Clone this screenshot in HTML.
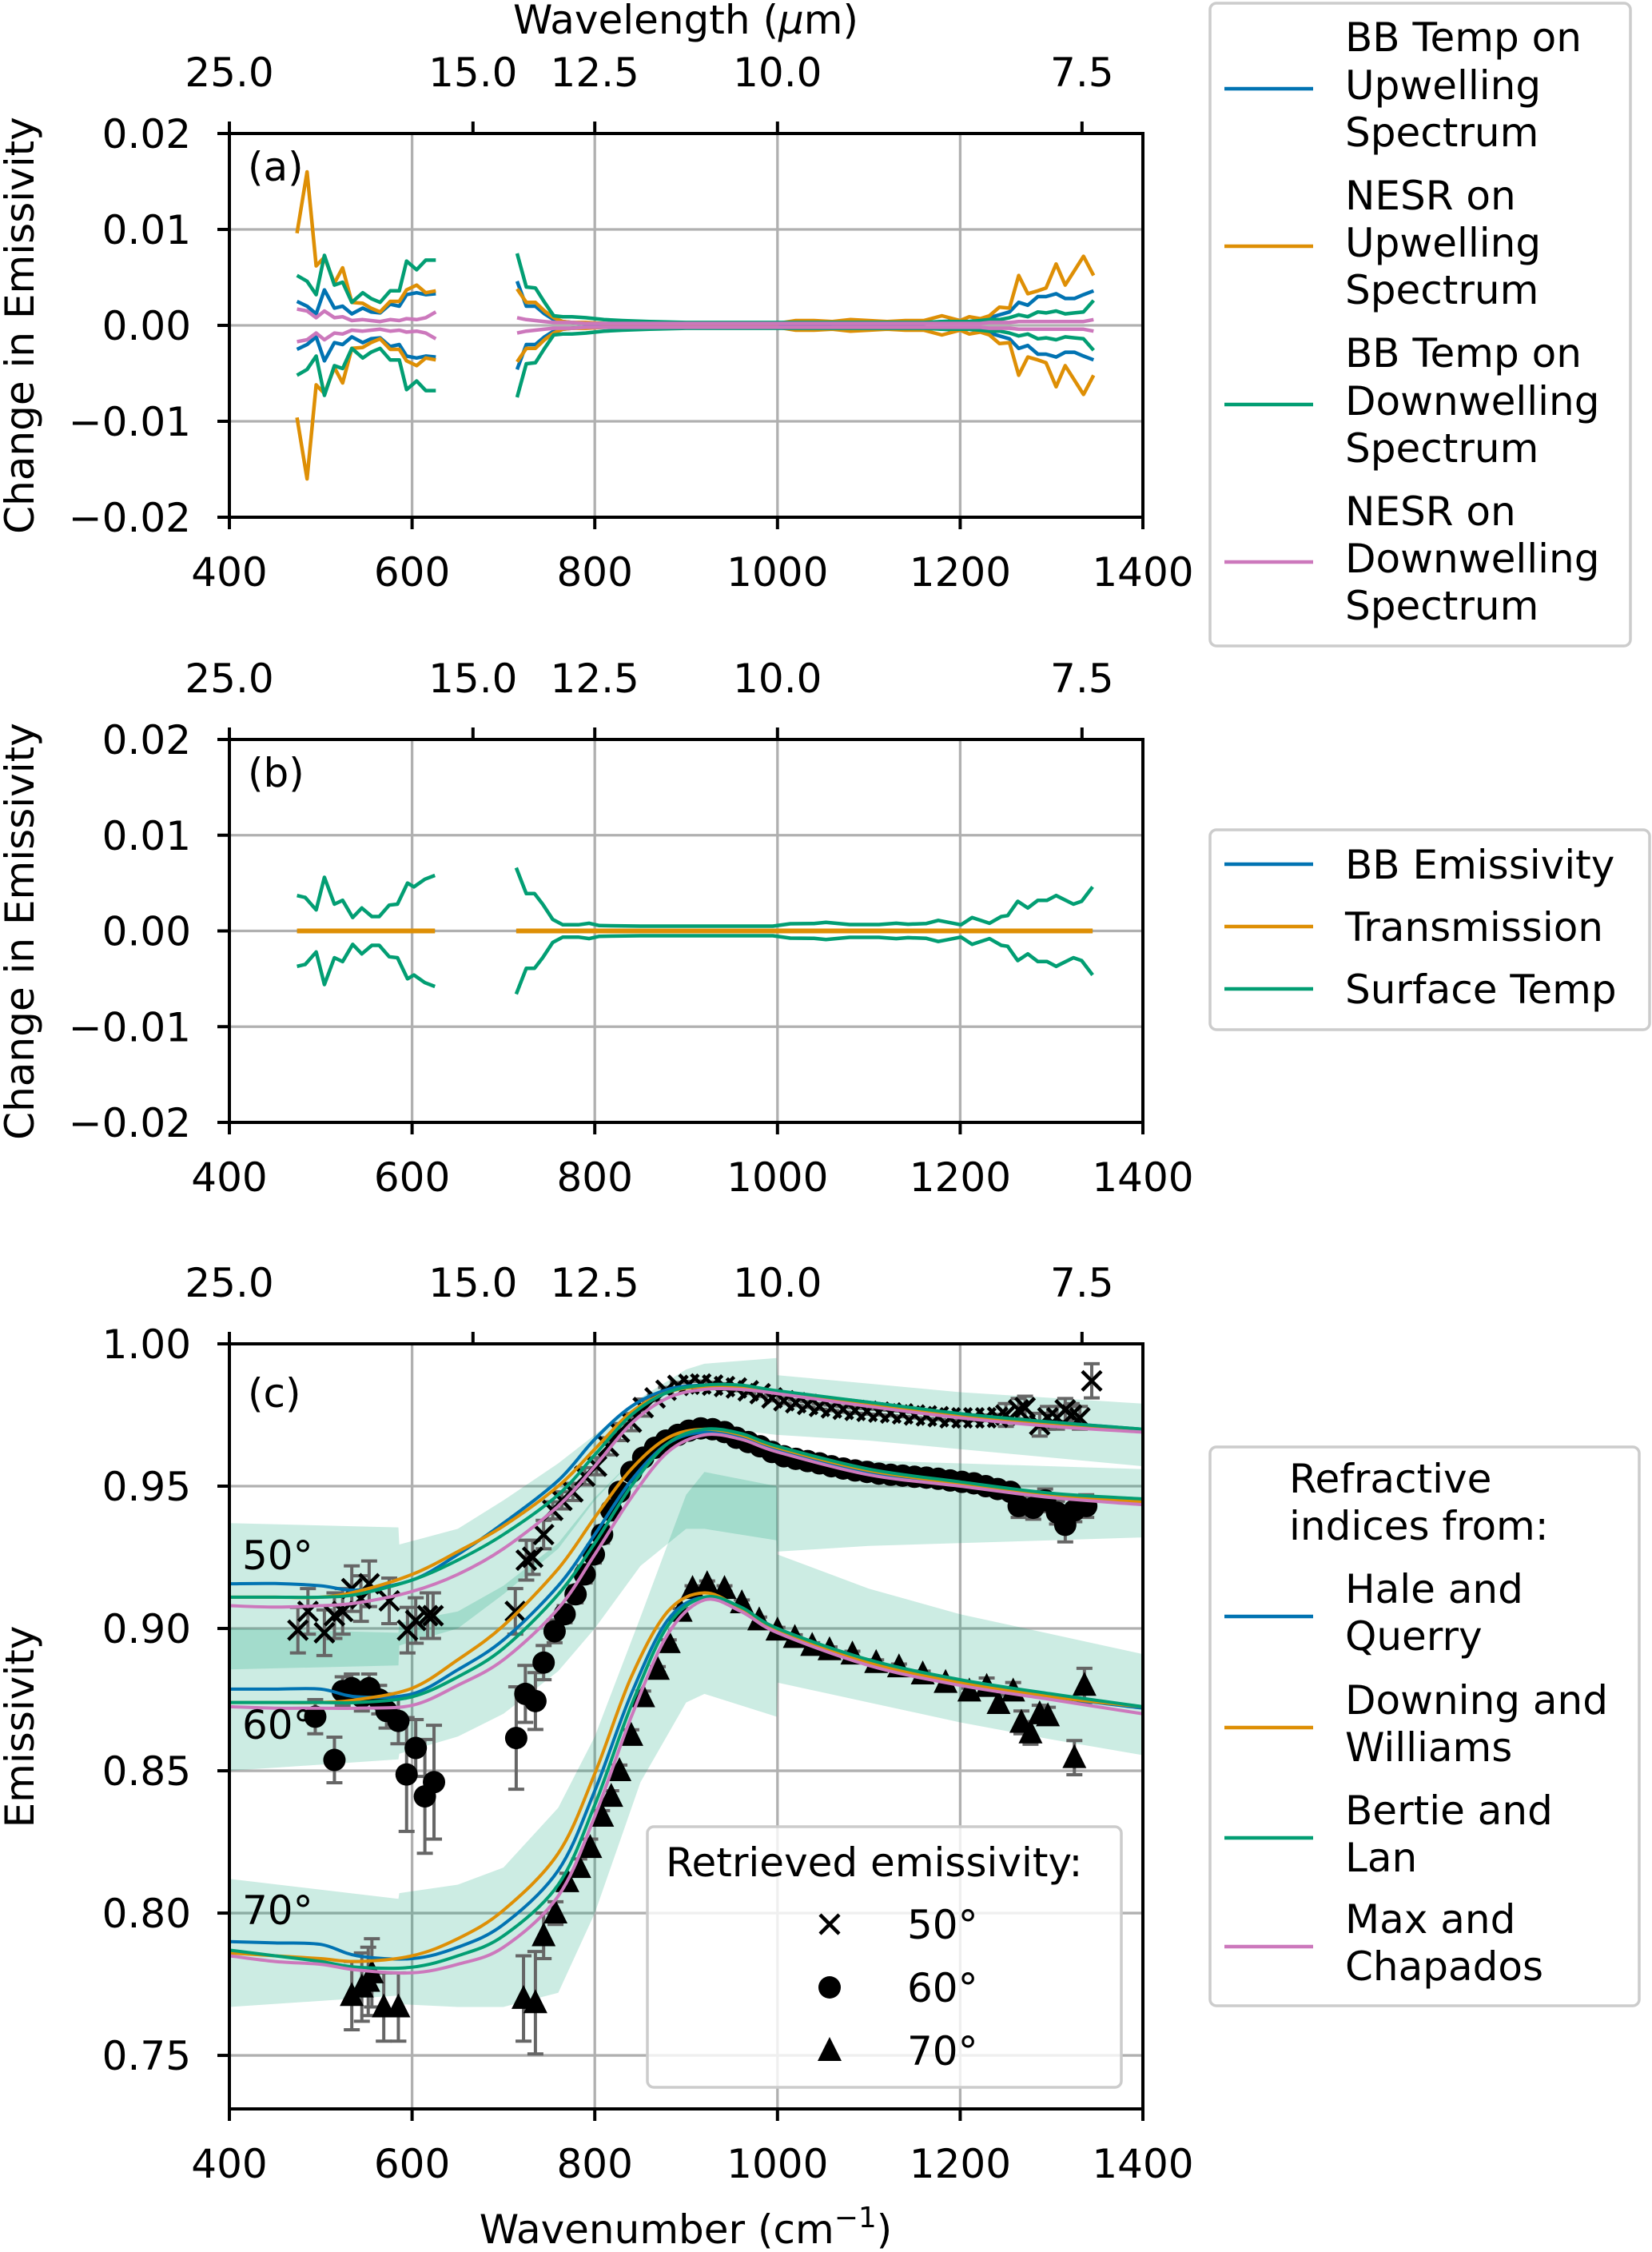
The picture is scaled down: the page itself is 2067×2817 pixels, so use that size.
<!DOCTYPE html>
<html><head><meta charset="utf-8">
<style>
html,body{margin:0;padding:0;background:#fff;}
svg{display:block;font-family:"DejaVu Sans","Liberation Sans",sans-serif;}
</style></head>
<body>
<svg id="fig" xmlns="http://www.w3.org/2000/svg" width="2067" height="2817" viewBox="0 0 2067 2817"></svg>
<script>
// ---------- Panel (a) data ----------
const aXLeft = [474,485,495,504,515,524,534,546,555,565,576,586,594,605,615,626];
const aBBUpLeft = [0.0025,0.002,0.0012,0.0037,0.0018,0.002,0.0012,0.0018,0.0014,0.0013,0.0022,0.002,0.0032,0.0034,0.0032,0.0033];
const aNesrUpLeft = [0.0096,0.016,0.0062,0.0071,0.0044,0.006,0.0024,0.0023,0.0018,0.0014,0.0025,0.0025,0.0037,0.0042,0.0034,0.0036];
const aBBDownLeft = [0.0052,0.0046,0.0032,0.0073,0.0042,0.0045,0.0024,0.0034,0.0028,0.0024,0.0036,0.0036,0.0067,0.0058,0.0068,0.0068];
const aNesrDownLeft = [0.0017,0.0015,0.0008,0.0015,0.0008,0.0009,0.0005,0.0006,0.0005,0.0004,0.0006,0.0005,0.0007,0.0006,0.0008,0.0014];
const aXRight = [715,725,735,745,755,765,775,790,810,830,860,900,950,1000,1020,1040,1060,1080,1100,1120,1140,1160,1180,1200,1210,1222,1232,1243,1254,1264,1274,1285,1294,1305,1315,1325,1335,1346];
const aNesrUpRight = [0.0038,0.0024,0.0024,0.0015,0.0008,0.0004,0.0003,0.0003,0.0002,0.0002,0.0002,0.0002,0.0002,0.0002,0.0005,0.0005,0.0004,0.0006,0.0005,0.0004,0.0005,0.0005,0.001,0.0005,0.0009,0.0007,0.001,0.0019,0.0018,0.0052,0.0033,0.0036,0.0039,0.0064,0.0042,0.0057,0.0072,0.0052];
const aBBUpRight = [0.0046,0.002,0.002,0.0012,0.0006,0.0004,0.0003,0.0002,0.0002,0.0001,0.0001,0.0001,0.0001,0.0001,0.0001,0.0001,0.0002,0.0002,0.0002,0.0002,0.0002,0.0002,0.0004,0.0005,0.0004,0.0006,0.0008,0.0011,0.0014,0.0024,0.0021,0.003,0.003,0.0033,0.0028,0.0028,0.0032,0.0036];
const aBBDownRight = [0.0075,0.004,0.0039,0.0024,0.001,0.0009,0.0009,0.0008,0.0006,0.0005,0.0004,0.0003,0.0003,0.0003,0.0003,0.0003,0.0003,0.0003,0.0003,0.0003,0.0003,0.0003,0.0004,0.0004,0.0004,0.0005,0.0006,0.0006,0.0008,0.0011,0.0009,0.0014,0.0013,0.0015,0.0012,0.0013,0.0014,0.0026];
const aNesrDownRight = [0.0008,0.0006,0.0005,0.0004,0.0003,0.0003,0.0003,0.0002,0.0002,0.0002,0.0002,0.0002,0.0002,0.0002,0.0002,0.0002,0.0002,0.0002,0.0002,0.0002,0.0002,0.0002,0.0002,0.0002,0.0002,0.0002,0.0003,0.0003,0.0003,0.0004,0.0004,0.0004,0.0004,0.0004,0.0004,0.0004,0.0004,0.0006];

// ---------- Panel (b) data ----------
const bXLeft = [474,483,495,504,515,524,535,545,556,564,575,584,595,602,614,625];
const bSurfLeft = [0.0037,0.0035,0.0022,0.0056,0.0028,0.0032,0.0014,0.0024,0.0015,0.0015,0.0027,0.0028,0.005,0.0046,0.0054,0.0058];
const bXRight = [714,725,734,743,754,765,782,794,805,850,900,995,1014,1040,1053,1079,1111,1130,1143,1163,1176,1201,1213,1232,1245,1252,1263,1274,1285,1295,1305,1324,1333,1345];
const bSurfRight = [0.0066,0.0039,0.0039,0.0028,0.0012,0.00064,0.00064,0.0008,0.00056,0.0005,0.0005,0.0005,0.00075,0.00078,0.0009,0.00067,0.00067,0.0008,0.0007,0.00078,0.0011,0.00064,0.0014,0.0008,0.0015,0.0016,0.0031,0.0024,0.0032,0.0032,0.0037,0.0028,0.0031,0.0046];

// ---------- Panel (c) data ----------
const cX = [400,450,500,540,600,650,700,760,800,840,880,920,960,1000,1100,1200,1300,1400];
const hale50 = [.9157,.9158,.915,.9135,.917,.926,.937,.952,.9665,.978,.984,.9855,.985,.983,.9795,.975,.9725,.970];
const down50 = [.911,.911,.911,.913,.919,.927,.936,.950,.963,.976,.983,.985,.985,.983,.979,.975,.972,.9695];
const bert50 = [.911,.911,.911,.912,.917,.924,.933,.947,.961,.975,.983,.9855,.9855,.9835,.9795,.9755,.9725,.970];
const max50  = [.908,.9075,.908,.909,.913,.919,.928,.943,.957,.972,.981,.984,.984,.9825,.978,.974,.971,.969];
const hale60 = [.8787,.8787,.8787,.876,.877,.8855,.896,.915,.933,.952,.965,.969,.967,.963,.955,.9505,.9465,.9446];
const down60 = [.874,.874,.874,.875,.879,.889,.901,.921,.939,.956,.967,.970,.968,.9635,.9555,.951,.947,.9445];
const bert60 = [.874,.874,.874,.874,.876,.883,.893,.912,.930,.950,.965,.970,.9685,.964,.956,.9515,.9475,.9455];
const max60  = [.8725,.872,.872,.872,.873,.880,.889,.907,.926,.946,.962,.968,.9665,.962,.954,.950,.946,.9435];
const hale70 = [.790,.7895,.789,.785,.784,.788,.796,.815,.843,.877,.903,.911,.906,.899,.888,.881,.876,.872];
const down70 = [.786,.785,.784,.783,.785,.791,.801,.821,.849,.883,.906,.9125,.907,.8995,.888,.881,.876,.8725];
const bert70 = [.787,.785,.783,.781,.781,.785,.792,.810,.838,.873,.901,.911,.9075,.900,.889,.882,.877,.8725];
const max70  = [.785,.783,.782,.780,.779,.782,.788,.806,.834,.869,.898,.910,.906,.8985,.887,.880,.875,.870];

const bandX = [400,585,586,650,700,760,800,850,900,920,999,1000,1100,1200,1300,1400];
const band50Hi = [.937,.9355,.9295,.935,.945,.958,.968,.981,.991,.993,.995,.989,.986,.983,.981,.979];
const band50Lo = [.8856,.887,.894,.900,.912,.928,.945,.962,.970,.971,.968,.968,.966,.963,.960,.957];
const band60Hi = [.900,.8985,.902,.906,.915,.930,.946,.962,.969,.970,.966,.960,.959,.958,.957,.956];
const band60Lo = [.850,.854,.856,.862,.870,.885,.900,.922,.935,.935,.931,.927,.929,.930,.931,.932];
const band70Hi = [.812,.805,.807,.810,.816,.837,.862,.904,.947,.955,.950,.926,.914,.905,.898,.891];
const band70Lo = [.767,.771,.768,.767,.767,.772,.800,.846,.874,.877,.869,.881,.874,.867,.861,.8555];

const x50 = [475,486,504,515,524,534,544,553,575,595,604,617,623,713,725,732,744,754,764,776,789,802,815,827,840,853,866,878,891,903,916,929,942,955,968,981,994,1007,1020,1033,1046,1059,1072,1085,1098,1111,1124,1137,1150,1163,1176,1189,1202,1215,1228,1241,1250,1264,1271,1287,1296,1306,1315,1322,1331,1344];
const y50 = [.8994,.906,.8985,.9045,.906,.914,.9105,.9157,.9097,.8994,.9028,.9045,.9045,.906,.924,.925,.933,.9415,.945,.948,.9535,.957,.964,.969,.9725,.9776,.981,.9837,.9854,.9858,.9859,.9855,.985,.9845,.9835,.9825,.981,.980,.9793,.9787,.978,.9775,.977,.9766,.9763,.976,.9757,.9754,.975,.9747,.9744,.974,.974,.974,.974,.9742,.975,.9768,.9776,.9716,.974,.974,.9768,.975,.974,.987];
const e50 = [.008,.008,.008,.008,.008,.008,.008,.008,.008,.008,.008,.008,.008,.008,.007,.006,.005,.003,.003,.003,.003,.003,.003,.003,.003,.003,.001,.001,.001,.001,.001,.001,.001,.001,.001,.001,.001,.001,.001,.001,.001,.001,.001,.001,.001,.001,.001,.001,.001,.001,.001,.001,.001,.001,.001,.001,.004,.004,.004,.004,.004,.004,.004,.004,.004,.006];
const x60 = [494,515,524,534,545,553,564,572,585,594,604,614,624,714,724,735,744,756,767,779,789,799,808,818,827,840,853,866,878,891,903,916,929,942,955,968,981,994,1007,1020,1033,1046,1059,1072,1085,1098,1111,1124,1137,1150,1163,1176,1189,1202,1215,1228,1241,1255,1264,1280,1293,1306,1315,1325,1338];
const y60 = [.869,.8538,.878,.879,.876,.879,.875,.871,.8675,.8487,.858,.841,.846,.8615,.877,.8745,.888,.899,.905,.912,.919,.926,.933,.9415,.948,.955,.960,.9635,.966,.968,.9695,.9703,.970,.969,.967,.9655,.964,.962,.9605,.9596,.9588,.958,.957,.9562,.9555,.955,.9544,.954,.9537,.9533,.953,.9526,.952,.9515,.951,.950,.949,.948,.943,.9424,.945,.9407,.9364,.9415,.943];
const e60 = [.006,.008,.005,.005,.005,.005,.005,.006,.008,.02,.01,.02,.02,.018,.01,.01,.006,.004,.003,.003,.003,.003,.003,.002,.002,.002,.002,.001,.001,.001,.001,.001,.001,.001,.001,.001,.001,.001,.001,.001,.001,.001,.001,.001,.001,.001,.001,.001,.001,.001,.001,.001,.001,.001,.001,.001,.001,.001,.004,.004,.004,.004,.006,.004,.004];
const x70 = [534,545,552,556,569,585,722,735,744,757,770,783,795,808,818,827,840,853,869,881,894,907,923,942,961,980,1000,1019,1038,1057,1082,1108,1133,1159,1184,1210,1229,1242,1258,1267,1277,1287,1296,1325,1336];
const y70 = [.771,.774,.776,.779,.767,.767,.770,.7685,.792,.80,.811,.816,.823,.834,.841,.850,.8624,.876,.8856,.895,.906,.914,.9157,.914,.909,.903,.8994,.8968,.894,.8925,.891,.888,.8865,.884,.881,.878,.8796,.8736,.878,.867,.8633,.870,.8693,.8546,.880];
const e70 = [.012,.012,.012,.012,.012,.012,.015,.018,.008,.004,.003,.003,.003,.002,.002,.002,.002,.002,.001,.001,.001,.001,.001,.001,.001,.001,.001,.001,.001,.001,.001,.001,.001,.001,.001,.001,.003,.003,.003,.004,.004,.003,.003,.006,.006];

const xTicks = [400,600,800,1000,1200,1400];
const xTickLabels = ["400","600","800","1000","1200","1400"];
const wlTicks = [25.0,15.0,12.5,10.0,7.5];
const wlTickLabels = ["25.0","15.0","12.5","10.0","7.5"];
const abTicks = [-0.02,-0.01,0,0.01,0.02];
const abTickLabels = ["\u22120.02","\u22120.01","0.00","0.01","0.02"];
const cTicks = [0.75,0.80,0.85,0.90,0.95,1.00];
const cTickLabels = ["0.75","0.80","0.85","0.90","0.95","1.00"];

const BLUE="#0173b2", ORANGE="#de8f05", GREEN="#029e73", PINK="#cc78bc";
const NS="http://www.w3.org/2000/svg";
const svg=document.getElementById('fig');
function mk(tag,attrs,parent){const e=document.createElementNS(NS,tag);for(const k in attrs)e.setAttribute(k,attrs[k]);(parent||svg).appendChild(e);return e;}
function txt(s,x,y,attrs,parent){const e=mk('text',Object.assign({x:x,y:y,'font-size':50,fill:'#000'},attrs||{}),parent);e.textContent=s;return e;}

const L=287,R=1430;
function sx(v){return L+(v-400)/1000*(R-L);}
function makeY(top,bot,ymin,ymax){return v=>bot-(v-ymin)/(ymax-ymin)*(bot-top);}

function polyPath(xs,ys,fx,fy){return xs.map((x,i)=>(i?'L':'M')+fx(x).toFixed(1)+','+fy(ys[i]).toFixed(1)).join(' ');}
function smoothPath(xs,ys,fx,fy){
  const P=xs.map((x,i)=>[fx(x),fy(ys[i])]);let d='M'+P[0][0].toFixed(1)+','+P[0][1].toFixed(1);
  for(let i=0;i<P.length-1;i++){const p0=P[Math.max(0,i-1)],p1=P[i],p2=P[i+1],p3=P[Math.min(P.length-1,i+2)];
    const c1=[p1[0]+(p2[0]-p0[0])/6,p1[1]+(p2[1]-p0[1])/6],c2=[p2[0]-(p3[0]-p1[0])/6,p2[1]-(p3[1]-p1[1])/6];
    d+=' C'+c1[0].toFixed(1)+','+c1[1].toFixed(1)+' '+c2[0].toFixed(1)+','+c2[1].toFixed(1)+' '+p2[0].toFixed(1)+','+p2[1].toFixed(1);}
  return d;}

function axesFrame(g,top,bot,fy,yTicks,yLabels,name){
  xTicks.forEach(t=>{if(t>400&&t<1400){const l=mk('line',{x1:sx(t),x2:sx(t),y1:top,y2:bot,stroke:'#b0b0b0','stroke-width':3.3},g);
    
    }});
  yTicks.forEach(t=>{const y=fy(t);if(y>top+1&&y<bot-1){const l=mk('line',{x1:L,x2:R,y1:y,y2:y,stroke:'#b0b0b0','stroke-width':3.3},g);
    
    }});
}
function axesDecor(g,top,bot,fy,yTicks,yLabels,name){
  const fr=mk('rect',{x:L,y:top,width:R-L,height:bot-top,fill:'none',stroke:'#000','stroke-width':4},g);
  
  
  xTicks.forEach((t,i)=>{mk('line',{x1:sx(t),x2:sx(t),y1:bot,y2:bot+15,stroke:'#000','stroke-width':4},g);
    const tl=txt(xTickLabels[i],sx(t),bot+86,{'text-anchor':'middle'},g);
    
    });
  yTicks.forEach((t,i)=>{const y=fy(t);mk('line',{x1:L-15,x2:L,y1:y,y2:y,stroke:'#000','stroke-width':4},g);
    const tl=txt(yLabels[i],L-48,y+18,{'text-anchor':'end'},g);
    
    });
  wlTicks.forEach((w,i)=>{const x=sx(10000/w);mk('line',{x1:x,x2:x,y1:top-15,y2:top,stroke:'#000','stroke-width':4},g);
    const tl=txt(wlTickLabels[i],x,top-59,{'text-anchor':'middle'},g);
    
    });
}
function line(g,xs,ys,fx,fy,color,name,smooth){const p=mk('path',{d:smooth?smoothPath(xs,ys,fx,fy):polyPath(xs,ys,fx,fy),fill:'none',stroke:color,'stroke-width':4.5,'stroke-linejoin':'round'},g);
  
  return p;}
const neg=a=>a.map(v=>-v);

// ===== Panel (a) =====
const fa=makeY(167,647,-0.02,0.02);
const ga=mk('g',{});


axesFrame(ga,167,647,fa,abTicks,abTickLabels,'panel-a');
[[aBBUpLeft,aBBUpRight,BLUE,'bb-temp-upwelling'],[aNesrUpLeft,aNesrUpRight,ORANGE,'nesr-upwelling'],[aBBDownLeft,aBBDownRight,GREEN,'bb-temp-downwelling'],[aNesrDownLeft,aNesrDownRight,PINK,'nesr-downwelling']].forEach(s=>{
  line(ga,aXLeft,s[0],sx,fa,s[2],s[3]+'-upper-left');line(ga,aXLeft,neg(s[0]),sx,fa,s[2],s[3]+'-lower-left');
  line(ga,aXRight,s[1],sx,fa,s[2],s[3]+'-upper-right');line(ga,aXRight,neg(s[1]),sx,fa,s[2],s[3]+'-lower-right');});
axesDecor(ga,167,647,fa,abTicks,abTickLabels,'panel-a');
const la=txt('(a)',310,226,{},ga);

// ===== Panel (b) =====
const fb=makeY(925,1404,-0.02,0.02);
const gb=mk('g',{});


axesFrame(gb,925,1404,fb,abTicks,abTickLabels,'panel-b');
line(gb,bXLeft,bSurfLeft,sx,fb,GREEN,'surface-temp-upper-left');line(gb,bXLeft,neg(bSurfLeft),sx,fb,GREEN,'surface-temp-lower-left');
line(gb,bXRight,bSurfRight,sx,fb,GREEN,'surface-temp-upper-right');line(gb,bXRight,neg(bSurfRight),sx,fb,GREEN,'surface-temp-lower-right');
const zL=bXLeft.map(()=>0),zR=bXRight.map(()=>0);
line(gb,bXLeft,zL,sx,fb,BLUE,'bb-emissivity-left');line(gb,bXRight,zR,sx,fb,BLUE,'bb-emissivity-right');
const t1=line(gb,bXLeft,zL,sx,fb,ORANGE,'transmission-left');t1.setAttribute('stroke-width',6);
const t2=line(gb,bXRight,zR,sx,fb,ORANGE,'transmission-right');t2.setAttribute('stroke-width',6);
axesDecor(gb,925,1404,fb,abTicks,abTickLabels,'panel-b');
const lb=txt('(b)',310,984,{},gb);

// ===== Panel (c) =====
const fc=makeY(1681,2638,0.7312,1.0);
const gc=mk('g',{});


axesFrame(gc,1681,2638,fc,cTicks,cTickLabels,'panel-c');
const clip=mk('clipPath',{id:'cclip'},gc);mk('rect',{x:L,y:1681,width:R-L,height:957},clip);
const gcc=mk('g',{'clip-path':'url(#cclip)'},gc);
[[band50Hi,band50Lo,'band-50'],[band60Hi,band60Lo,'band-60'],[band70Hi,band70Lo,'band-70']].forEach(b=>{
  const d=polyPath(bandX,b[0],sx,fc)+' '+bandX.slice().reverse().map((x,i)=>'L'+sx(x).toFixed(1)+','+fc(b[1][bandX.length-1-i]).toFixed(1)).join(' ')+' Z';
  const p=mk('path',{d:d,fill:GREEN,'fill-opacity':0.2,stroke:'none'},gcc);
  
  });
function errbars(xs,ys,es,name){xs.forEach((x,i)=>{const X=sx(x),y1=fc(ys[i]+es[i]),y2=fc(ys[i]-es[i]);
  const g=mk('g',{stroke:'#666','stroke-width':4},gcc);
  
  
  mk('line',{x1:X,x2:X,y1:y1,y2:y2},g);mk('line',{x1:X-10,x2:X+10,y1:y1,y2:y1},g);mk('line',{x1:X-10,x2:X+10,y1:y2,y2:y2},g);});}
errbars(x50,y50,e50,'errorbar-50');errbars(x60,y60,e60,'errorbar-60');errbars(x70,y70,e70,'errorbar-70');
function xMark(X,Y,par){const s=12;return mk('path',{d:`M${X-s},${Y-s}L${X+s},${Y+s}M${X-s},${Y+s}L${X+s},${Y-s}`,stroke:'#000','stroke-width':4.5,fill:'none'},par);}
function cMark(X,Y,par){return mk('circle',{cx:X,cy:Y,r:14,fill:'#000'},par);}
function tMark(X,Y,par){const s=15;return mk('path',{d:`M${X},${Y-s-2}L${X+s},${Y+s-2}L${X-s},${Y+s-2}Z`,fill:'#000'},par);}
x50.forEach((x,i)=>{const m=xMark(sx(x),fc(y50[i]),gcc);
  
  });
x60.forEach((x,i)=>{const m=cMark(sx(x),fc(y60[i]),gcc);
  
  });
x70.forEach((x,i)=>{const m=tMark(sx(x),fc(y70[i]),gcc);
  
  });
[[hale50,hale60,hale70,BLUE,'hale-querry'],[down50,down60,down70,ORANGE,'downing-williams'],[bert50,bert60,bert70,GREEN,'bertie-lan'],[max50,max60,max70,PINK,'max-chapados']].forEach(s=>{
  const a=line(gcc,cX,s[0],sx,fc,s[3],s[4]+'-50',true);a.setAttribute('stroke-width',4);
  const b=line(gcc,cX,s[1],sx,fc,s[3],s[4]+'-60',true);b.setAttribute('stroke-width',4);
  const c=line(gcc,cX,s[2],sx,fc,s[3],s[4]+'-70',true);c.setAttribute('stroke-width',4);});
axesDecor(gc,1681,2638,fc,cTicks,cTickLabels,'panel-c');
const lc=txt('(c)',310,1760,{},gc);
[['50°',1963],['60°',2175],['70°',2407]].forEach(a=>{const t=txt(a[0],303,a[1],{},gc);
  
  });
</script>

<svg style="position:absolute;left:0;top:0" width="2067" height="2817" xmlns="http://www.w3.org/2000/svg" font-family="DejaVu Sans, Liberation Sans, sans-serif" font-size="50">
  <text x="858" y="42" text-anchor="middle">Wavelength (<tspan font-style="italic">μ</tspan>m)</text>
  <text transform="translate(42,407) rotate(-90)" text-anchor="middle">Change in Emissivity</text>
  <text transform="translate(42,1165) rotate(-90)" text-anchor="middle">Change in Emissivity</text>
  <text transform="translate(42,2160) rotate(-90)" text-anchor="middle">Emissivity</text>
  <text x="858" y="2806" text-anchor="middle">Wavenumber (cm<tspan dy="-20" font-size="36">−1</tspan><tspan dy="20">)</tspan></text>

  <g>
    <rect x="1514" y="4" width="526" height="804" rx="8" fill="#fff" fill-opacity="0.8" stroke="#ccc" stroke-width="3.5"/>
    <g>
      <line x1="1532" x2="1643" y1="111" y2="111" stroke="#0173b2" stroke-width="4.5"/>
      <text x="1683" y="64">BB Temp on</text><text x="1683" y="124">Upwelling</text><text x="1683" y="183">Spectrum</text>
    </g>
    <g>
      <line x1="1532" x2="1643" y1="308" y2="308" stroke="#de8f05" stroke-width="4.5"/>
      <text x="1683" y="262">NESR on</text><text x="1683" y="321">Upwelling</text><text x="1683" y="380">Spectrum</text>
    </g>
    <g>
      <line x1="1532" x2="1643" y1="506" y2="506" stroke="#029e73" stroke-width="4.5"/>
      <text x="1683" y="459">BB Temp on</text><text x="1683" y="519">Downwelling</text><text x="1683" y="578">Spectrum</text>
    </g>
    <g>
      <line x1="1532" x2="1643" y1="703" y2="703" stroke="#cc78bc" stroke-width="4.5"/>
      <text x="1683" y="657">NESR on</text><text x="1683" y="716">Downwelling</text><text x="1683" y="775">Spectrum</text>
    </g>
  </g>

  <g>
    <rect x="1514" y="1038" width="550" height="250" rx="8" fill="#fff" fill-opacity="0.8" stroke="#ccc" stroke-width="3.5"/>
    <g><line x1="1532" x2="1643" y1="1081" y2="1081" stroke="#0173b2" stroke-width="4.5"/><text x="1683" y="1099">BB Emissivity</text></g>
    <g><line x1="1532" x2="1643" y1="1159" y2="1159" stroke="#de8f05" stroke-width="4.5"/><text x="1683" y="1177">Transmission</text></g>
    <g><line x1="1532" x2="1643" y1="1237" y2="1237" stroke="#029e73" stroke-width="4.5"/><text x="1683" y="1255">Surface Temp</text></g>
  </g>

  <g>
    <rect x="1514" y="1810" width="537" height="699" rx="8" fill="#fff" fill-opacity="0.8" stroke="#ccc" stroke-width="3.5"/>
    <text x="1613" y="1867">Refractive</text>
    <text x="1613" y="1926">indices from:</text>
    <g><line x1="1532" x2="1643" y1="2022" y2="2022" stroke="#0173b2" stroke-width="4.5"/><text x="1683" y="2005">Hale and</text><text x="1683" y="2064">Querry</text></g>
    <g><line x1="1532" x2="1643" y1="2161" y2="2161" stroke="#de8f05" stroke-width="4.5"/><text x="1683" y="2144">Downing and</text><text x="1683" y="2203">Williams</text></g>
    <g><line x1="1532" x2="1643" y1="2299" y2="2299" stroke="#029e73" stroke-width="4.5"/><text x="1683" y="2282">Bertie and</text><text x="1683" y="2341">Lan</text></g>
    <g><line x1="1532" x2="1643" y1="2435" y2="2435" stroke="#cc78bc" stroke-width="4.5"/><text x="1683" y="2418">Max and</text><text x="1683" y="2477">Chapados</text></g>
  </g>

  <g>
    <rect x="810" y="2285" width="593" height="326" rx="8" fill="#fff" fill-opacity="0.8" stroke="#ccc" stroke-width="3.5"/>
    <text x="833" y="2347">Retrieved emissivity:</text>
    <g><path d="M1026,2395L1050,2419M1026,2419L1050,2395" stroke="#000" stroke-width="4.5"/><text x="1135" y="2425">50°</text></g>
    <g><circle cx="1038" cy="2486" r="14" fill="#000"/><text x="1135" y="2504">60°</text></g>
    <g><path d="M1038,2548L1053,2578L1023,2578Z" fill="#000"/><text x="1135" y="2583">70°</text></g>
  </g>
</svg>
</body></html>
